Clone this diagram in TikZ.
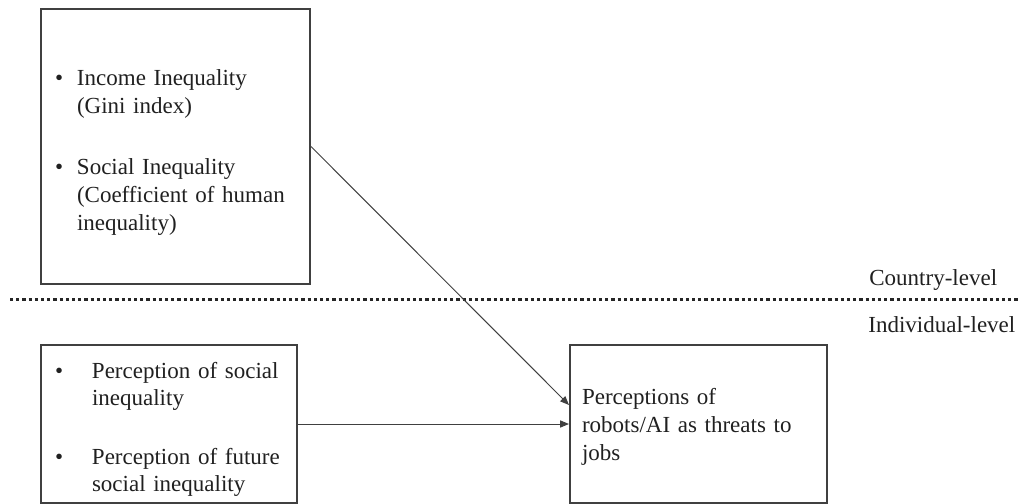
\documentclass[tikz,border=0pt]{standalone}
\usepackage{fontspec}
\setmainfont{Liberation Serif}
\usepackage{tikz}
\usetikzlibrary{arrows.meta, calc}
\usepackage{xcolor}

\definecolor{linegray}{HTML}{404040}
\definecolor{textgray}{HTML}{202020}

\begin{document}
\begin{tikzpicture}[x=0.5pt, y=-0.5pt,
    font=\fontsize{11.5pt}{14pt}\selectfont,
    every node/.style={text=textgray},
    varbox/.style={draw=linegray, line width=1pt, inner xsep=7pt, inner ysep=0pt, align=left},
    link/.style={linegray, line width=0.5pt, -{Triangle[length=4.5pt, width=3.6pt]}},
    levelline/.style={black!85, line width=1.6pt, dash pattern=on 1.6pt off 1.5pt}]
    \useasboundingbox (0,0) rectangle (1019,504);

    \node[varbox, minimum width=134.5pt, minimum height=137.5pt, text width=120.5pt] (country) at (175.5,146.5) {%
        \raisebox{-3pt}[\height][\depth]{%
        \begin{tabular}{@{}p{11pt}@{}l@{}}
        \textbullet & Income Inequality\\
                    & (Gini index)\\[16.5pt]
        \textbullet & Social Inequality\\
                    & (Coefficient of human\\
                    & inequality)
        \end{tabular}}};
    \node[varbox, minimum width=128pt, minimum height=79pt, text width=114pt] (individual) at (169,424) {%
        \fontsize{11.5pt}{13.5pt}\selectfont
        \raisebox{-3pt}[\height][\depth]{%
        \begin{tabular}{@{}p{18.5pt}@{}l@{}}
        \textbullet & Perception of social\\
                    & inequality\\[16pt]
        \textbullet & Perception of future\\
                    & social inequality
        \end{tabular}}};
    \node[varbox, inner xsep=6pt, minimum width=128.5pt, minimum height=79pt, text width=116.5pt] (threat) at (698.5,424) {%
        \fontsize{11.5pt}{14pt}\selectfont
        \raisebox{-1.5pt}[\height][\depth]{%
        \begin{tabular}{@{}l@{}}
        Perceptions of\\ robots/AI as threats to\\ jobs
        \end{tabular}}};

    % level separator
    \coordinate (sepL) at (10,299.5);
    \coordinate (sepR) at (1019,299.5);
    \draw[levelline] (sepL) -- (sepR);
    \node[anchor=base west, inner sep=0pt] (countrylbl) at (869,285) {Country-level};
    \node[anchor=base west, inner sep=0pt] (indivlbl) at (868,332) {Individual-level};

    \draw[link] (country.east) -- ([yshift=9.5pt]threat.west);
    \draw[link] (individual.east) -- (individual.east -| threat.west);
\end{tikzpicture}
\end{document}
